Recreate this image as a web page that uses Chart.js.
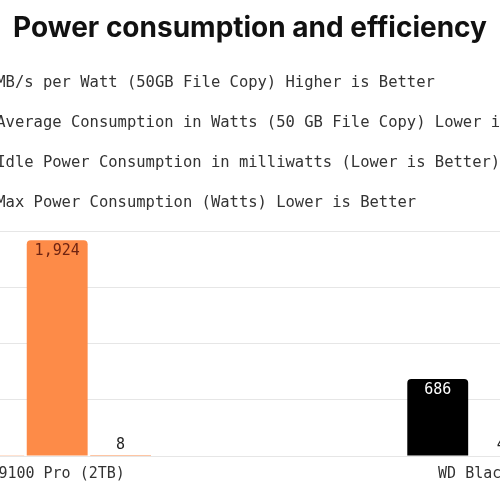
<!DOCTYPE html>
<html>
<head>
<meta charset="utf-8">
<title>Power consumption and efficiency</title>
<script src="https://cdn.jsdelivr.net/npm/chart.js"></script>
<style>
    html, body {
        margin: 0;
        padding: 0;
        background: #fff;
        overflow: hidden;
    }
    body {
        width: 500px;
        height: 500px;
        position: relative;
    }
    /* the chart is wider than the window and cropped on both sides */
    .chart-box {
        position: absolute;
        left: -76px;
        top: 0;
        width: 652px;
        height: 500px;
    }
</style>
</head>
<body>
<div class="chart-box"><canvas id="powerChart"></canvas></div>

<script>
const products = ['Samsung 9100 Pro (2TB)', 'WD Black SN8100 (2TB)'];
const seriesNames = [
    'MB/s per Watt (50GB File Copy) Higher is Better',
    'Average Consumption in Watts (50 GB File Copy) Lower is Better',
    'Idle Power Consumption in milliwatts (Lower is Better)',
    'Max Power Consumption (Watts) Lower is Better'
];
const mbPerWatt = [560, 686];
const avgWatts = [6, 4];
const idleMilliwatts = [1924, 320];
const maxWatts = [8, 7];
const yTicks = [0, 500, 1000, 1500, 2000];

const productColors = ['#fd8b48', '#000000'];
const insideLabelColors = ['#6e2412', '#ffffff'];
const monoFont = '"DejaVu Sans Mono", monospace';

const series = [mbPerWatt, avgWatts, idleMilliwatts, maxWatts];

// value labels: inside the top of tall bars, above short ones
const valueLabels = {
    id: 'valueLabels',
    afterDatasetsDraw(chart) {
        const ctx = chart.ctx;
        ctx.save();
        ctx.font = '15px ' + monoFont;
        ctx.textAlign = 'center';
        ctx.textBaseline = 'middle';
        chart.data.datasets.forEach((ds, di) => {
            chart.getDatasetMeta(di).data.forEach((bar, i) => {
                const v = ds.data[i].y;
                if (v === null || v === undefined) return;
                const text = v.toLocaleString('en-US');
                if (bar.base - bar.y > 30) {
                    ctx.fillStyle = insideLabelColors[i];
                    ctx.fillText(text, bar.x, bar.y + 11);
                } else {
                    ctx.fillStyle = '#222';
                    ctx.fillText(text, bar.x, bar.y - 10);
                }
            });
        });
        ctx.restore();
    }
};

new Chart(document.getElementById('powerChart'), {
    type: 'bar',
    data: {
        datasets: seriesNames.map((name, si) => ({
            label: name,
            data: products.map((p, i) => ({ x: i, y: series[si][i] })),
            backgroundColor: productColors,
            borderRadius: 4,
            categoryPercentage: 0.5,
            barPercentage: 0.96
        }))
    },
    options: {
        responsive: true,
        maintainAspectRatio: false,
        animation: false,
        layout: {
            autoPadding: false,
            padding: { bottom: 16 }
        },
        plugins: {
            title: {
                display: true,
                text: 'Power consumption and efficiency',
                color: '#111',
                font: { family: 'Inter', size: 28, weight: 'bold' },
                padding: { top: 12, bottom: 5 }
            },
            legend: {
                position: 'top',
                align: 'start',
                labels: {
                    color: '#333',
                    font: { family: monoFont, size: 15.5 },
                    boxWidth: 40,
                    padding: 24.5
                }
            },
            tooltip: { enabled: false }
        },
        scales: {
            x: {
                type: 'linear',
                offset: false,
                min: -0.2,
                max: 1.085,
                grid: { display: false },
                border: { display: false },
                ticks: {
                    stepSize: 1,
                    includeBounds: false,
                    maxRotation: 0,
                    padding: 1,
                    color: '#333',
                    font: { family: monoFont, size: 15 },
                    callback: (v) => products[v] ?? ''
                },
                afterBuildTicks: (scale) => {
                    scale.ticks = products.map((p, i) => ({ value: i }));
                },
                // labels may run past the canvas edges, like in the cropped original
                afterFit: (scale) => {
                    scale.paddingLeft = 0;
                    scale.paddingRight = 0;
                }
            },
            y: {
                min: 0,
                max: 2100,
                border: { display: false },
                grid: { color: '#e6e6e6', drawTicks: false },
                ticks: { display: false },
                afterBuildTicks: (scale) => {
                    scale.ticks = yTicks.map(v => ({ value: v }));
                }
            }
        }
    },
    plugins: [valueLabels]
});
</script>
</body>
</html>
